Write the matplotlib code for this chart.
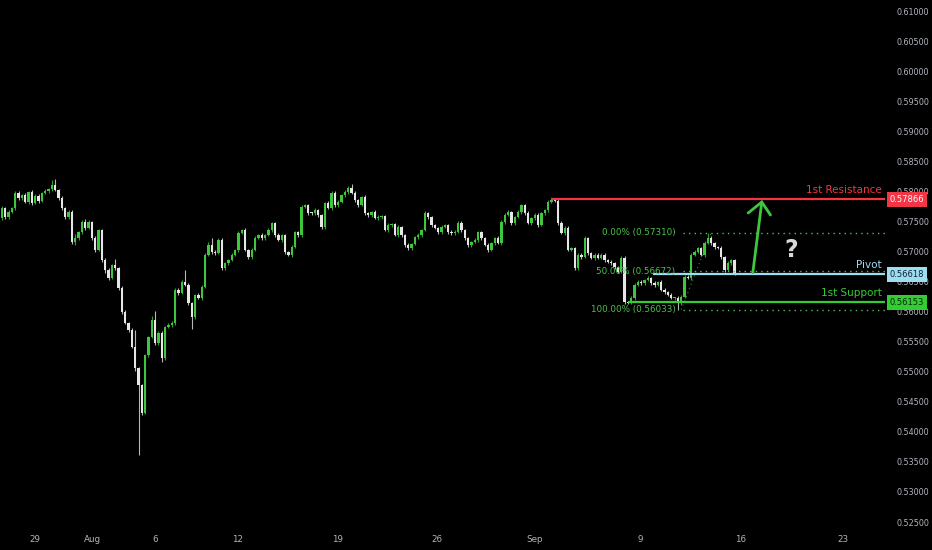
import numpy as np
import matplotlib.pyplot as plt
from matplotlib.transforms import blended_transform_factory

# ---- data (4h candles) ----
first_open = 0.57557
closes = [
    0.57723, 0.57573, 0.57656, 0.57723, 0.57973, 0.57889, 0.57939, 0.57823, 0.57989, 0.57806,
    0.57923, 0.57840, 0.57973, 0.58006, 0.58039, 0.58106, 0.58023, 0.57889, 0.57723, 0.57573,
    0.57656, 0.57158, 0.57224, 0.57324, 0.57490, 0.57390, 0.57490, 0.57224, 0.57025, 0.57357,
    0.56858, 0.56692, 0.56559, 0.56775, 0.56725, 0.56393, 0.55994, 0.55811, 0.55695, 0.55412,
    0.55062, 0.54780, 0.54314, 0.55279, 0.55578, 0.55861, 0.55478, 0.55645, 0.55229, 0.55744,
    0.55778, 0.55811, 0.56360, 0.56310, 0.56493, 0.56443, 0.56144, 0.55911, 0.56277, 0.56227,
    0.56410, 0.56942, 0.57108, 0.56991, 0.56975, 0.57191, 0.56725, 0.56808, 0.56858, 0.56942,
    0.57025, 0.57307, 0.57357, 0.57025, 0.56908, 0.57025, 0.57224, 0.57274, 0.57224, 0.57274,
    0.57357, 0.57473, 0.57274, 0.57191, 0.57274, 0.56991, 0.56942, 0.57075, 0.57324, 0.57274,
    0.57740, 0.57773, 0.57640, 0.57632, 0.57690, 0.57607, 0.57407, 0.57806, 0.57723, 0.57973,
    0.57773, 0.57823, 0.57939, 0.57989, 0.58056, 0.57973, 0.57856, 0.57773, 0.57906, 0.57640,
    0.57607, 0.57656, 0.57557, 0.57573, 0.57590, 0.57357, 0.57440, 0.57457, 0.57274, 0.57407,
    0.57274, 0.57108, 0.57058, 0.57124, 0.57241, 0.57274, 0.57357, 0.57640, 0.57573, 0.57440,
    0.57390, 0.57324, 0.57407, 0.57440, 0.57324, 0.57307, 0.57330, 0.57473, 0.57357, 0.57224,
    0.57108, 0.57158, 0.57191, 0.57324, 0.57224, 0.57108, 0.57025, 0.57141, 0.57224, 0.57141,
    0.57490, 0.57607, 0.57656, 0.57473, 0.57573, 0.57656, 0.57773, 0.57640, 0.57473, 0.57557,
    0.57607, 0.57440, 0.57640, 0.57690, 0.57823, 0.57856, 0.57840, 0.57473, 0.57307, 0.57390,
    0.57025, 0.57058, 0.56725, 0.56942, 0.56908, 0.57224, 0.56975, 0.56892, 0.56942, 0.56892,
    0.56942, 0.56858, 0.56825, 0.56808, 0.56742, 0.56659, 0.56892, 0.56161, 0.56144, 0.56227,
    0.56443, 0.56493, 0.56476, 0.56526, 0.56559, 0.56476, 0.56443, 0.56493, 0.56360, 0.56327,
    0.56277, 0.56227, 0.56227, 0.56144, 0.56244, 0.56576, 0.56560, 0.56942, 0.56991, 0.57058,
    0.56942, 0.57141, 0.57224, 0.57141, 0.57075, 0.57058, 0.56908, 0.56692, 0.56808, 0.56858,
    0.56642,
]
# wick lengths in points (1e-5) above / below the candle body
wick_up = [
    30, 20, 40, 25, 30, 35, 20, 40, 25, 30, 30, 25, 20, 30, 25, 85, 100, 20, 30, 25,
    40, 30, 60, 20, 30, 45, 35, 20, 30, 25, 20, 30, 35, 25, 100, 20, 30, 25, 20, 30,
    280, 20, 10, 20, 20, 60, 150, 40, 30, 25, 30, 25, 40, 30, 35, 200, 30, 20, 20, 40,
    25, 30, 50, 120, 30, 40, 30, 25, 20, 30, 20, 35, 25, 30, 20, 25, 30, 20, 30, 25,
    30, 25, 20, 30, 25, 20, 25, 30, 20, 25, 30, 25, 20, 25, 30, 25, 20, 25, 30, 40,
    25, 30, 20, 30, 40, 60, 30, 20, 25, 30, 20, 25, 30, 40, 25, 20, 30, 20, 25, 30,
    20, 25, 30, 25, 20, 30, 25, 40, 20, 25, 20, 25, 30, 20, 25, 30, 25, 40, 30, 20,
    25, 20, 30, 25, 20, 25, 30, 20, 25, 30, 30, 25, 40, 20, 25, 30, 25, 20, 30, 25,
    40, 30, 25, 20, 30, 25, 20, 26, 40, 30, 30, 25, 20, 40, 30, 35, 25, 20, 30, 25,
    30, 25, 20, 30, 25, 20, 40, 25, 20, 30, 40, 25, 30, 20, 30, 25, 30, 20, 25, 30,
    20, 25, 20, 30, 40, 30, 30, 25, 30, 20, 25, 30, 86, 30, 25, 20, 30, 25, 30, 20,
    25,
]
wick_dn = [
    30, 25, 30, 20, 25, 30, 25, 20, 30, 25, 20, 30, 25, 20, 30, 25, 20, 30, 25, 30,
    30, 40, 50, 30, 25, 30, 20, 40, 30, 25, 30, 50, 40, 20, 30, 40, 30, 25, 30, 20,
    50, 1165, 30, 20, 30, 20, 30, 40, 60, 30, 20, 30, 40, 30, 20, 25, 40, 200, 30, 25,
    30, 20, 25, 30, 40, 20, 30, 25, 30, 20, 25, 30, 20, 25, 40, 30, 25, 20, 30, 25,
    20, 30, 25, 20, 30, 40, 25, 30, 20, 25, 30, 20, 25, 30, 20, 25, 40, 30, 20, 25,
    30, 25, 20, 30, 25, 20, 30, 25, 20, 40, 25, 30, 20, 25, 30, 20, 25, 30, 20, 25,
    30, 25, 40, 30, 20, 25, 30, 20, 25, 30, 20, 25, 30, 20, 25, 30, 25, 20, 30, 25,
    30, 25, 20, 30, 25, 20, 40, 25, 30, 20, 25, 30, 20, 25, 30, 20, 25, 30, 20, 25,
    30, 25, 20, 30, 25, 20, 25, 30, 20, 30, 25, 20, 30, 25, 40, 20, 30, 25, 30, 20,
    25, 30, 20, 25, 30, 20, 25, 30, 20, 25, 30, 20, 25, 30, 20, 25, 30, 20, 25, 30,
    25, 20, 30, 111, 30, 25, 20, 30, 25, 20, 25, 30, 20, 25, 30, 20, 25, 30, 20, 25,
    30,
]

date_labels = ["29", "Aug", "6", "12", "19", "26", "Sep", "9", "16", "23"]
date_bars = [9.9, 27.3, 45.9, 70.6, 100.9, 130.6, 160.1, 191.6, 221.9, 252.6]

resistance = 0.57866
pivot = 0.56618
support = 0.56153
fib_levels = [0.57310, 0.56672, 0.56033]
fib_names = ["0.00%", "50.00%", "100.00%"]

# ---- colours ----
BG = "#000000"
UP = "#3fc63f"
DOWN = "#e6e6e6"
RED = "#f23645"
BLUE = "#9edcf0"
GREEN = "#33cc33"
FIB = "#4cc24c"
AXIS_TXT = "#b2b5be"

closes = np.array(closes)
opens = np.concatenate([[first_open], closes[:-1]])
highs = np.maximum(opens, closes) + np.array(wick_up) * 1e-5
lows = np.minimum(opens, closes) - np.array(wick_dn) * 1e-5
idx = np.arange(len(closes))

fig = plt.figure(figsize=(9.32, 5.5), dpi=100, facecolor=BG)
ax = fig.add_axes([0, 22 / 550, 885 / 932, 528 / 550], facecolor=BG)

up = closes >= opens
cols = np.where(up, UP, DOWN)
ax.vlines(idx, lows, highs, colors=cols, linewidth=0.8, alpha=0.8, zorder=2)
body_h = np.maximum(np.abs(closes - opens), 0.00018)
ax.bar(idx, body_h, bottom=np.minimum(opens, closes), width=0.7,
       color=cols, linewidth=0, zorder=3)

ax.set_xlim(-0.6, 265.2)
ax.set_ylim(0.52401, 0.61183)

# key levels
xmax = 265.2
ax.hlines(resistance, 165, xmax, color=RED, linewidth=1.6, zorder=4)
ax.hlines(pivot, 195.5, xmax, color=BLUE, linewidth=1.6, zorder=4)
ax.hlines(support, 188, xmax, color=GREEN, linewidth=1.6, zorder=4)

for lvl, name in zip(fib_levels, fib_names):
    ax.hlines(lvl, 204.5, xmax, color=FIB, linewidth=1.0,
              linestyles=(0, (1, 3)), zorder=4)
    ax.text(202.3, lvl, f"{name} ({lvl:.5f})", color=FIB, fontsize=6.3,
            ha="right", va="center", zorder=5)
ax.plot([204, 213], [fib_levels[2], fib_levels[0]], color=FIB, linewidth=0.8,
        linestyle=(0, (1, 3)), alpha=0.7, zorder=4)

label_tf = blended_transform_factory(ax.transAxes, ax.transData)
for lvl, txt, c in [(resistance, "1st Resistance", RED),
                    (pivot, "Pivot", BLUE),
                    (support, "1st Support", GREEN)]:
    ax.annotate(txt, xy=(0.9965, lvl), xycoords=label_tf, xytext=(0, 3),
                textcoords="offset points", ha="right", va="bottom",
                color=c, fontsize=7.5, zorder=6)

for lvl, bg, fg in [(resistance, RED, "#ffffff"),
                    (pivot, BLUE, "#0b2230"),
                    (support, GREEN, "#07250a")]:
    ax.text(1.0055, lvl, f"{lvl:.5f}", transform=label_tf, ha="left", va="center",
            color=fg, fontsize=6.0, clip_on=False, zorder=7,
            bbox=dict(boxstyle="square,pad=0.35", fc=bg, ec="none"))

# projected move
ax.plot([225.5, 228.2], [0.56647, 0.57823], color=UP, linewidth=2.0,
        solid_capstyle="round", zorder=6)
ax.plot([224.1, 228.2, 230.8], [0.57640, 0.57823, 0.57607], color=UP,
        linewidth=2.0, solid_capstyle="round", solid_joinstyle="miter", zorder=6)
ax.text(237.1, 0.57025, "?", color="#d8d8d8", fontsize=17, fontweight="bold",
        ha="center", va="center", zorder=6)

# axes
ax.yaxis.tick_right()
ax.set_yticks(np.arange(0.525, 0.6101, 0.005))
ax.set_yticklabels([f"{v:.5f}" for v in np.arange(0.525, 0.6101, 0.005)])
ax.set_xticks(date_bars)
ax.set_xticklabels(date_labels)
ax.tick_params(axis="y", length=0, pad=8, labelsize=5.8, labelcolor=AXIS_TXT)
ax.tick_params(axis="x", length=0, pad=5, labelsize=6.3, labelcolor=AXIS_TXT)
for sp in ax.spines.values():
    sp.set_visible(False)

fig.savefig("out.png", dpi=100, facecolor=BG)
